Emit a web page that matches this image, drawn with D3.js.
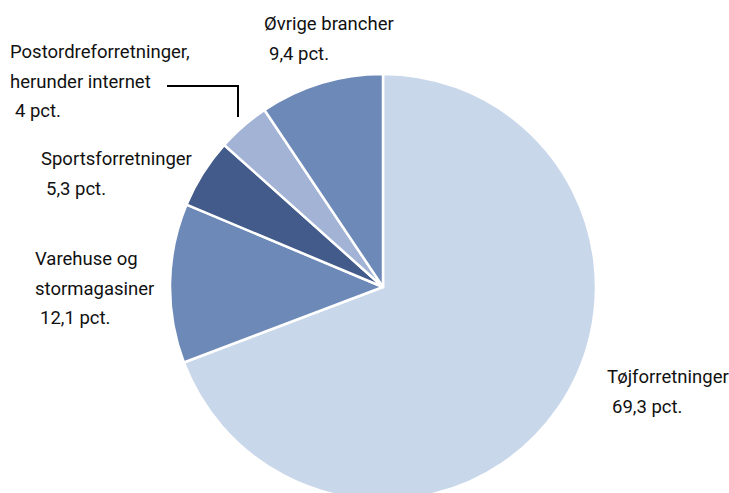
<!DOCTYPE html>
<html>
<head>
<meta charset="utf-8">
<script src="https://cdn.jsdelivr.net/npm/d3@7"></script>
<style>
  body { margin: 0; background: #ffffff; }
  text { font-family: Roboto, "Open Sans", sans-serif; font-size: 18.5px; fill: #111111; }
</style>
</head>
<body>
<script>
// 分类与数值（从 12 点钟方向顺时针）
const categories = ['Tøjforretninger', 'Varehuse og stormagasiner', 'Sportsforretninger',
    'Postordreforretninger, herunder internet', 'Øvrige brancher'];
const values = [69.3, 12.1, 5.3, 4, 9.4];
const valueLabels = ['69,3 pct.', '12,1 pct.', '5,3 pct.', '4 pct.', '9,4 pct.'];
const labelLines = [
    ['Tøjforretninger'],
    ['Varehuse og', 'stormagasiner'],
    ['Sportsforretninger'],
    ['Postordreforretninger,', 'herunder internet'],
    ['Øvrige brancher']
];
const colors = ['#c9d7ea', '#6d89b8', '#425b8a', '#a2b3d6', '#6d89b8'];

const width = 729, height = 493;
const cx = 383, cy = 287, radius = 213;

// 标签左上位置
const labelPos = [
    {x: 607, y: 383},
    {x: 35, y: 265},
    {x: 41, y: 165},
    {x: 10, y: 58},
    {x: 264, y: 30}
];

const svg = d3.select('body')
    .append('svg')
    .attr('width', width)
    .attr('height', height);

const pie = d3.pie().sort(null).value(d => d);
const arc = d3.arc().innerRadius(0).outerRadius(radius);

const g = svg.append('g').attr('transform', `translate(${cx},${cy})`);
g.selectAll('path')
    .data(pie(values))
    .enter()
    .append('path')
    .attr('d', arc)
    .attr('fill', (d, i) => colors[i])
    .attr('stroke', '#ffffff')
    .attr('stroke-width', 2.5)
    .attr('stroke-linejoin', 'round');

// 标签
const lineH = 29.5;
categories.forEach((c, i) => {
    const p = labelPos[i];
    const t = svg.append('text').attr('x', p.x).attr('y', p.y);
    labelLines[i].forEach((l, j) => {
        t.append('tspan').attr('x', p.x).attr('y', p.y + j * lineH).text(l);
    });
    t.append('tspan')
        .attr('x', p.x + 5)
        .attr('y', p.y + labelLines[i].length * lineH)
        .text(valueLabels[i]);
});

// 引线（Postordre）
svg.append('path')
    .attr('d', 'M 167 86 L 238 86 L 238 117')
    .attr('fill', 'none')
    .attr('stroke', '#000000')
    .attr('stroke-width', 2);
</script>
</body>
</html>
